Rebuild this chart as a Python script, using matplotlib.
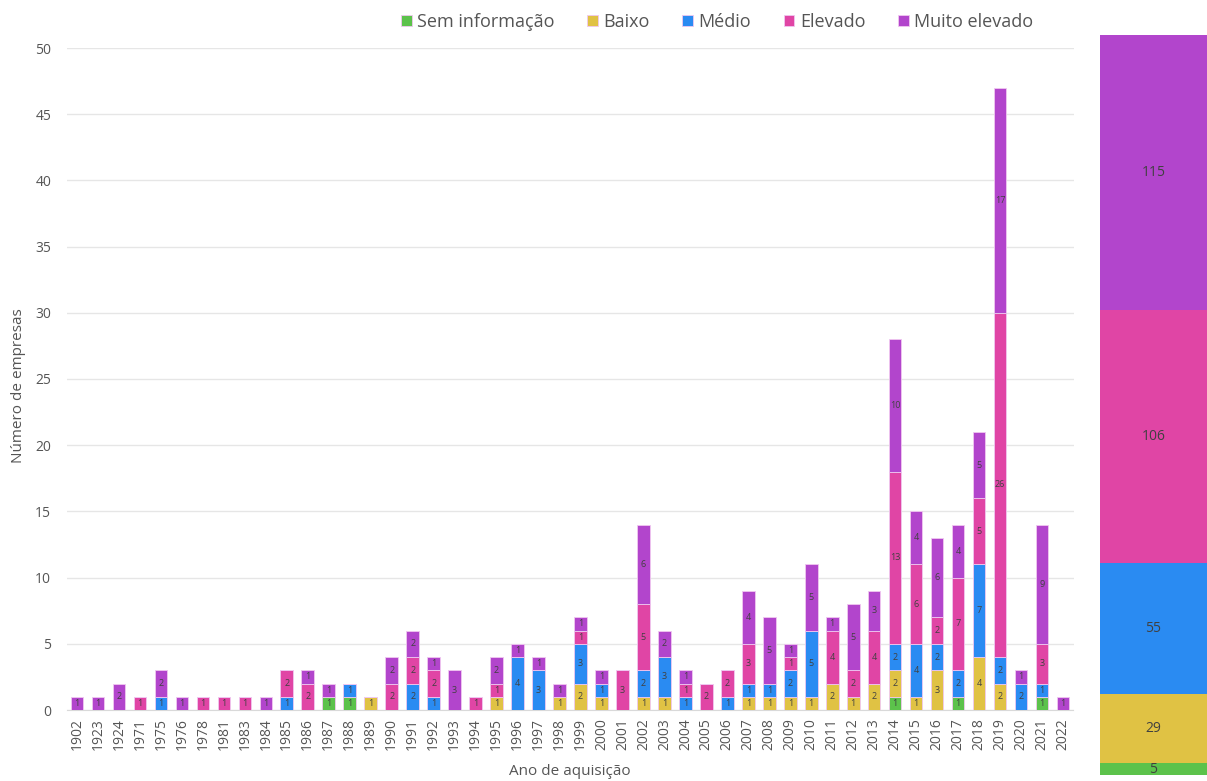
import matplotlib
matplotlib.use("Agg")
import matplotlib.pyplot as plt
import numpy as np

plt.rcParams['font.family'] = ['Open Sans', 'DejaVu Sans']

years = [1902, 1923, 1924, 1971, 1975, 1976, 1978, 1981, 1983, 1984, 1985, 1986,
         1987, 1988, 1989, 1990, 1991, 1992, 1993, 1994, 1995, 1996, 1997, 1998,
         1999, 2000, 2001, 2002, 2003, 2004, 2005, 2006, 2007, 2008, 2009, 2010,
         2011, 2012, 2013, 2014, 2015, 2016, 2017, 2018, 2019, 2020, 2021, 2022]

# risk level counts per acquisition year
sem_info = {1987: 1, 1988: 1, 2014: 1, 2017: 1, 2021: 1}
baixo = {1989: 1, 1995: 1, 1998: 1, 1999: 2, 2000: 1, 2002: 1, 2003: 1, 2007: 1,
         2008: 1, 2009: 1, 2010: 1, 2011: 2, 2012: 1, 2013: 2, 2014: 2, 2015: 1,
         2016: 3, 2018: 4, 2019: 2}
medio = {1975: 1, 1985: 1, 1988: 1, 1991: 2, 1992: 1, 1996: 4, 1997: 3, 1999: 3,
         2000: 1, 2002: 2, 2003: 3, 2004: 1, 2006: 1, 2007: 1, 2008: 1, 2009: 2,
         2010: 5, 2014: 2, 2015: 4, 2016: 2, 2017: 2, 2018: 7, 2019: 2, 2020: 2,
         2021: 1}
elevado = {1971: 1, 1978: 1, 1981: 1, 1983: 1, 1985: 2, 1986: 2, 1990: 2, 1991: 2,
           1992: 2, 1994: 1, 1995: 1, 1999: 1, 2001: 3, 2002: 5, 2004: 1, 2005: 2,
           2006: 2, 2007: 3, 2009: 1, 2011: 4, 2012: 2, 2013: 4, 2014: 13, 2015: 6,
           2016: 2, 2017: 7, 2018: 5, 2019: 26, 2021: 3}
muito_elevado = {1902: 1, 1923: 1, 1924: 2, 1975: 2, 1976: 1, 1984: 1, 1986: 1,
                 1987: 1, 1990: 2, 1991: 2, 1992: 1, 1993: 3, 1995: 2, 1996: 1,
                 1997: 1, 1998: 1, 1999: 1, 2000: 1, 2002: 6, 2003: 2, 2004: 1,
                 2007: 4, 2008: 5, 2009: 1, 2010: 5, 2011: 1, 2012: 5, 2013: 3,
                 2014: 10, 2015: 4, 2016: 6, 2017: 4, 2018: 5, 2019: 17, 2020: 1,
                 2021: 9, 2022: 1}

labels = ['Sem informação', 'Baixo', 'Médio', 'Elevado', 'Muito elevado']
colors = ['#5cc24b', '#e0c244', '#2a8bf2', '#e045a5', '#b245cc']
series = [sem_info, baixo, medio, elevado, muito_elevado]

fig = plt.figure(figsize=(12.07, 7.81), dpi=100)
ax = fig.add_axes([66.5 / 1207, 1 - 710 / 781, 1007 / 1207, 662 / 781])

x = np.arange(len(years))
bottom = np.zeros(len(years))
handles = []
for lab, col, d in zip(labels, colors, series):
    vals = np.array([d.get(y, 0) for y in years], dtype=float)
    bars = ax.bar(x, vals, 0.6, bottom=bottom, color=col, edgecolor='#f0c8f0',
                  linewidth=0.6, label=lab, zorder=3)
    handles.append(bars)
    for xi, v, b in zip(x, vals, bottom):
        if v > 0:
            ax.text(xi, b + v / 2, f'{int(v)}', ha='center', va='center',
                    fontsize=6.5, color='#404040', zorder=4)
    bottom += vals

ax.set_xlim(-0.5, len(years) - 0.5)
ax.set_ylim(0, 50)
ax.set_yticks(range(0, 51, 5))
ax.set_xticks(x)
ax.set_xticklabels([str(y) for y in years], rotation=90, fontsize=10, color='#555555')
ax.tick_params(axis='y', labelsize=10, labelcolor='#555555', length=0, pad=11)
ax.tick_params(axis='x', length=0, pad=6)
ax.grid(axis='y', color='#e6e6e6', linewidth=1, zorder=0)
for s in ['top', 'right', 'left']:
    ax.spines[s].set_visible(False)
ax.spines['bottom'].set_color('#d9d9d9')
ax.set_ylabel('Número de empresas', fontsize=11, color='#555555')
ax.yaxis.set_label_coords(-0.040, 0.49)

fig.text(0.472, 0.012, 'Ano de aquisição', ha='center', va='center',
         fontsize=11, color='#555555')

fig.legend(handles=handles, labels=labels, loc='center', ncol=5,
           bbox_to_anchor=(717 / 1207, 1 - 22 / 781), frameon=False,
           fontsize=13, handlelength=0.6, handleheight=0.6, handletextpad=0.3,
           columnspacing=1.8, labelcolor='#555555')

# overall totals per risk level
totals = [sum(d.values()) for d in series]
ax2 = fig.add_axes([1100 / 1207, 1 - 775 / 781, 107 / 1207, 740 / 781])
b = 0
for col, t in zip(colors, totals):
    ax2.bar(0, t, 1.0, bottom=b, color=col, linewidth=0)
    ax2.text(0, b + t / 2, str(t), ha='center', va='center', fontsize=10,
             color='#404040')
    b += t
ax2.set_xlim(-0.5, 0.5)
ax2.set_ylim(0, b)
ax2.axis('off')

fig.savefig('out.png', dpi=100)
